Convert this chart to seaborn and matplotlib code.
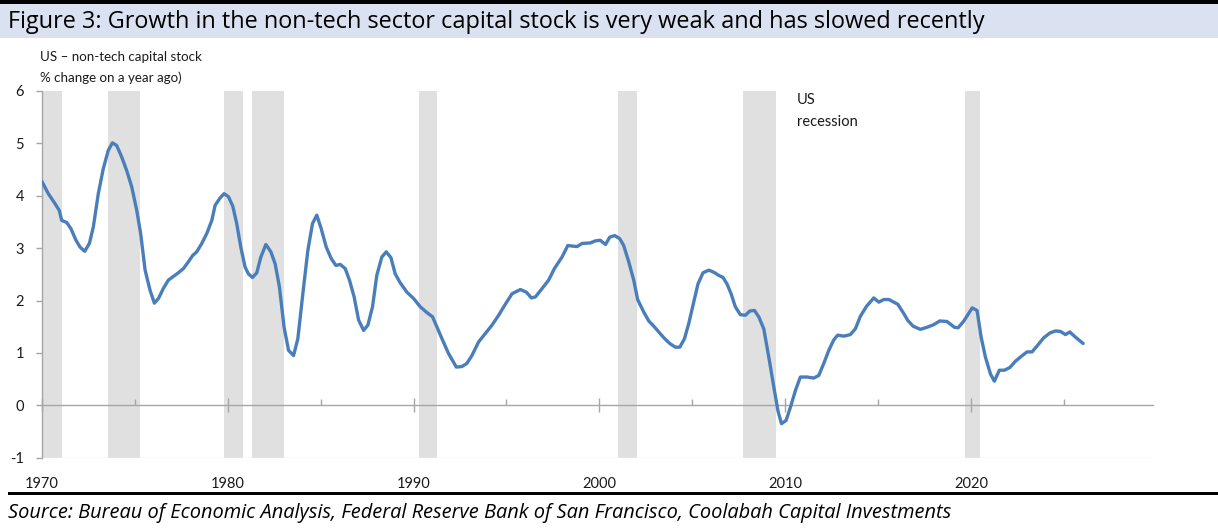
import matplotlib
matplotlib.use("Agg")
import matplotlib.pyplot as plt
import seaborn as sns
import pandas as pd
from matplotlib.patches import Rectangle
from matplotlib.ticker import FixedLocator, MultipleLocator

# ---- data ----
years = [1970.0, 1970.34, 1970.7, 1970.93, 1971.06, 1971.33, 1971.56, 1971.83, 1972.05, 1972.3,
         1972.55, 1972.76, 1973.03, 1973.3, 1973.57, 1973.79, 1974.02, 1974.29, 1974.56, 1974.83,
         1975.1, 1975.31, 1975.55, 1975.82, 1976.05, 1976.27, 1976.53, 1976.8, 1977.07, 1977.34,
         1977.61, 1977.88, 1978.11, 1978.33, 1978.6, 1978.87, 1979.14, 1979.32, 1979.59, 1979.8,
         1980.04, 1980.27, 1980.48, 1980.7, 1980.93, 1981.11, 1981.33, 1981.56, 1981.78, 1982.05,
         1982.32, 1982.55, 1982.78, 1983.03, 1983.27, 1983.54, 1983.77, 1984.04, 1984.31, 1984.56,
         1984.79, 1985.03, 1985.3, 1985.57, 1985.82, 1986.05, 1986.32, 1986.55, 1986.8, 1987.04,
         1987.31, 1987.54, 1987.79, 1988.02, 1988.29, 1988.53, 1988.78, 1989.01, 1989.28, 1989.64,
         1990.0, 1990.36, 1990.72, 1991.02, 1991.26, 1991.53, 1991.88, 1992.3, 1992.6, 1992.87,
         1993.14, 1993.5, 1993.86, 1994.22, 1994.58, 1994.94, 1995.3, 1995.75, 1996.07, 1996.34,
         1996.56, 1996.92, 1997.27, 1997.58, 1997.99, 1998.3, 1998.8, 1999.07, 1999.52, 1999.79,
         2000.05, 2000.33, 2000.56, 2000.83, 2001.1, 2001.31, 2001.58, 2001.85, 2002.06, 2002.39,
         2002.66, 2002.93, 2003.2, 2003.47, 2003.79, 2004.09, 2004.33, 2004.58, 2004.81, 2005.08,
         2005.31, 2005.58, 2005.89, 2006.16, 2006.43, 2006.66, 2006.88, 2007.09, 2007.32, 2007.59,
         2007.86, 2008.1, 2008.35, 2008.58, 2008.85, 2009.12, 2009.39, 2009.61, 2009.8, 2010.05,
         2010.29, 2010.56, 2010.82, 2011.18, 2011.54, 2011.81, 2012.08, 2012.35, 2012.62, 2012.83,
         2013.16, 2013.51, 2013.78, 2014.05, 2014.38, 2014.77, 2015.04, 2015.31, 2015.58, 2015.85,
         2016.06, 2016.39, 2016.6, 2016.89, 2017.28, 2017.64, 2018.0, 2018.32, 2018.71, 2019.11,
         2019.31, 2019.62, 2020.07, 2020.33, 2020.55, 2020.78, 2021.05, 2021.26, 2021.53, 2021.8,
         2022.09, 2022.39, 2022.66, 2023.02, 2023.29, 2023.6, 2023.92, 2024.25, 2024.55, 2024.82,
         2025.09, 2025.32, 2025.63, 2026.04]
growth = [4.27, 4.04, 3.85, 3.72, 3.53, 3.49, 3.37, 3.15, 3.02, 2.94,
          3.09, 3.40, 4.04, 4.52, 4.87, 5.01, 4.96, 4.74, 4.48, 4.17,
          3.72, 3.28, 2.58, 2.19, 1.95, 2.04, 2.23, 2.39, 2.46, 2.53,
          2.61, 2.74, 2.86, 2.93, 3.09, 3.28, 3.53, 3.82, 3.96, 4.04,
          3.98, 3.80, 3.47, 3.02, 2.64, 2.51, 2.44, 2.53, 2.83, 3.07,
          2.93, 2.70, 2.26, 1.49, 1.05, 0.95, 1.27, 2.13, 2.96, 3.47,
          3.63, 3.37, 3.02, 2.80, 2.67, 2.69, 2.61, 2.39, 2.07, 1.63,
          1.43, 1.53, 1.88, 2.48, 2.83, 2.93, 2.82, 2.51, 2.34, 2.16,
          2.04, 1.88, 1.77, 1.69, 1.49, 1.27, 0.99, 0.73, 0.74, 0.80,
          0.95, 1.21, 1.37, 1.53, 1.72, 1.93, 2.13, 2.21, 2.16, 2.05,
          2.07, 2.23, 2.39, 2.61, 2.83, 3.05, 3.03, 3.09, 3.10, 3.14,
          3.15, 3.07, 3.21, 3.24, 3.18, 3.05, 2.74, 2.39, 2.02, 1.78,
          1.61, 1.51, 1.40, 1.29, 1.18, 1.11, 1.11, 1.27, 1.56, 1.97,
          2.32, 2.53, 2.58, 2.54, 2.48, 2.44, 2.31, 2.13, 1.88, 1.73,
          1.72, 1.80, 1.81, 1.69, 1.46, 0.92, 0.35, -0.10, -0.35, -0.29,
          -0.03, 0.29, 0.54, 0.54, 0.52, 0.57, 0.80, 1.05, 1.25, 1.34,
          1.32, 1.35, 1.46, 1.70, 1.89, 2.05, 1.97, 2.02, 2.02, 1.97,
          1.93, 1.75, 1.62, 1.51, 1.45, 1.49, 1.54, 1.61, 1.60, 1.49,
          1.48, 1.61, 1.86, 1.81, 1.30, 0.92, 0.60, 0.46, 0.67, 0.67,
          0.72, 0.84, 0.92, 1.02, 1.02, 1.15, 1.29, 1.38, 1.42, 1.41,
          1.35, 1.40, 1.30, 1.18]

recession_start = [1970.0, 1973.55, 1979.8, 1981.3, 1990.27, 2001.0, 2007.74, 2019.7]
recession_end = [1971.07, 1975.3, 1980.8, 1983.05, 1991.27, 2002.0, 2009.5, 2020.5]

x_major = [1970, 1980, 1990, 2000, 2010, 2020]
x_labels = ["1970", "1980", "1990", "2000", "2010", "2020"]
y_ticks = [-1, 0, 1, 2, 3, 4, 5, 6]
y_labels = ["-1", "0", "1", "2", "3", "4", "5", "6"]

title = "Figure 3: Growth in the non-tech sector capital stock is very weak and has slowed recently"
ylabel_lines = ["US \u2013 non-tech capital stock", "% change on a year ago)"]
recession_label = "US\nrecession"
source = ("Source: Bureau of Economic Analysis, Federal Reserve Bank of San Francisco, "
          "Coolabah Capital Investments")

# ---- styling ----
sns.set_theme(style="white")
plt.rcParams["font.family"] = ["Lato", "DejaVu Sans"]

LINE = "#4a7ebb"
BAND = "#e0e0e0"
AXIS = "#a6a6a6"
TXT = "#1a1a1a"

fig = plt.figure(figsize=(12.18, 5.28), dpi=100)
fig.patch.set_facecolor("white")

# title band and rules
fig.patches.append(Rectangle((0, 1 - 3.5 / 528), 1, 3.5 / 528, transform=fig.transFigure,
                             facecolor="black", edgecolor="none"))
fig.patches.append(Rectangle((0, 1 - 38 / 528), 1, 34 / 528, transform=fig.transFigure,
                             facecolor="#dae2f2", edgecolor="none"))
fig.patches.append(Rectangle((8 / 1218, 1 - 495 / 528), 1 - 8 / 1218, 3.5 / 528,
                             transform=fig.transFigure, facecolor="black", edgecolor="none"))
fig.text(8 / 1218, 1 - 21.5 / 528, title, ha="left", va="center", fontsize=16.95,
         family=["Open Sans", "DejaVu Sans"], color="black")
fig.text(8 / 1218, 1 - 513 / 528, source, ha="left", va="center", fontsize=14.4,
         style="italic", family=["Open Sans", "DejaVu Sans"], color="black")

ax = fig.add_axes([42 / 1218, 1 - 457.7 / 528, (1153 - 42) / 1218, (457.7 - 91) / 528])
ax.set_facecolor("white")

for s, e in zip(recession_start, recession_end):
    ax.axvspan(s, e, facecolor=BAND, edgecolor="none", zorder=0)

df = pd.DataFrame({"year": years, "growth": growth})
sns.lineplot(data=df, x="year", y="growth", ax=ax, color=LINE, linewidth=2.4,
             zorder=3, estimator=None, sort=False)

ax.set_xlim(1970, 2029.8)
ax.set_ylim(-1, 6)
ax.set_xlabel("")
ax.set_ylabel("")

for side in ["top", "right"]:
    ax.spines[side].set_visible(False)
ax.spines["left"].set_color(AXIS)
ax.spines["left"].set_linewidth(1.0)
ax.spines["bottom"].set_position(("data", 0))
ax.spines["bottom"].set_color(AXIS)
ax.spines["bottom"].set_linewidth(1.0)
ax.spines["bottom"].set_zorder(2)
ax.axhline(-1, color="#f0f0f0", linewidth=1.0, zorder=0.5)

ax.xaxis.set_major_locator(FixedLocator(x_major))
ax.xaxis.set_minor_locator(MultipleLocator(5))
ax.tick_params(axis="x", which="major", bottom=True, direction="inout", length=10,
               width=1.0, color=AXIS, labelbottom=False)
ax.tick_params(axis="x", which="minor", bottom=True, direction="in", length=4,
               width=1.0, color=AXIS)
ax.set_yticks(y_ticks)
ax.set_yticklabels(y_labels)
ax.tick_params(axis="y", left=True, direction="out", length=4, width=1.0, color=AXIS,
               labelsize=10.5, labelcolor=TXT, pad=9)

sec = ax.secondary_xaxis(0)
sec.set_xticks(x_major)
sec.set_xticklabels(x_labels)
sec.tick_params(axis="x", length=0, pad=14, labelsize=10.5, labelcolor=TXT)
sec.spines["bottom"].set_visible(False)

ax.text(2010.65, 5.97, recession_label, ha="left", va="top", fontsize=10.5,
        color=TXT, linespacing=1.75, zorder=4)

fig.text(40 / 1218, 1 - 57 / 528, ylabel_lines[0], ha="left", va="center", fontsize=9.6,
         color=TXT)
fig.text(40 / 1218, 1 - 78 / 528, ylabel_lines[1], ha="left", va="center", fontsize=9.6,
         color=TXT)

fig.savefig("out.png", dpi=100, facecolor="white")
